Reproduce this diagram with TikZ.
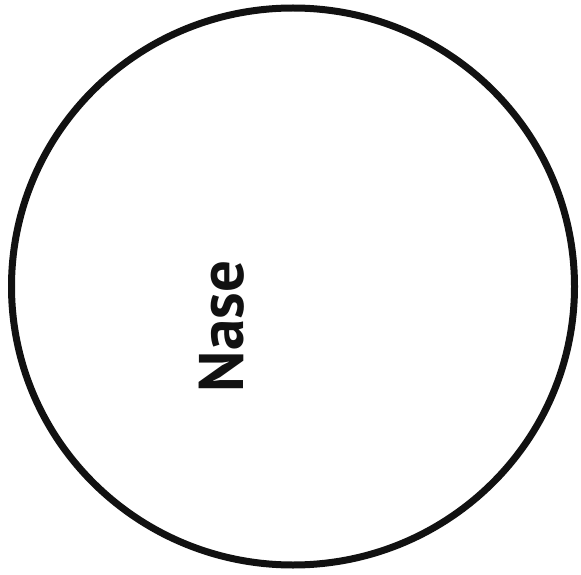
\documentclass[tikz,border=0pt]{standalone}
\usepackage{fontspec}
\setmainfont{PT Sans}
\usetikzlibrary{positioning, shapes.geometric}
\definecolor{inkblack}{HTML}{111111}

\begin{document}
\begin{tikzpicture}[
    x=1pt, y=1pt,
    outline/.style={
        draw=inkblack, line width=7pt, ellipse, fill=none,
        minimum width=563pt, minimum height=557pt, inner sep=0pt
    },
    partlabel/.style={
        font=\fontsize{63}{63}\selectfont\bfseries, text=inkblack,
        rotate=90, inner sep=0pt
    }
]
\useasboundingbox (0,0) rectangle (581,574);

\node[outline] (nose) at (293,287.5) {};
\node[partlabel] (nase) at (221.5,247.5) {Nase};

\end{tikzpicture}
\end{document}
